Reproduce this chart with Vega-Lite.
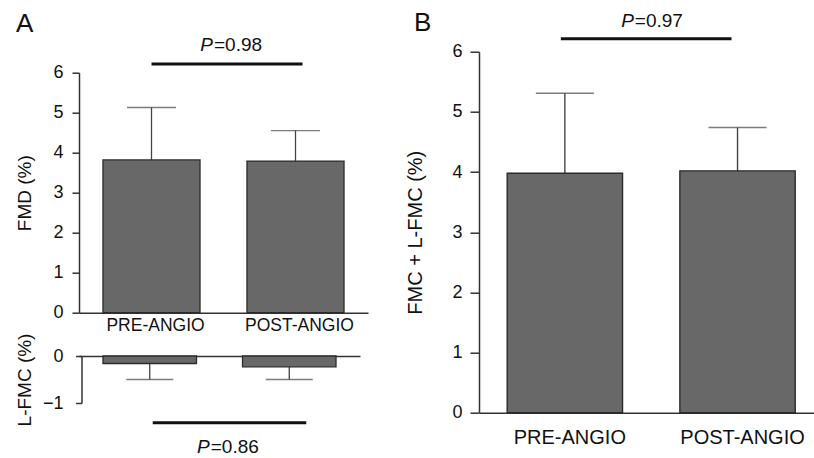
{
  "$schema": "https://vega.github.io/schema/vega-lite/v6.json",
  "autosize": {"type": "none"},
  "padding": {"left": 79, "top": 51.7, "right": 735, "bottom": 406.3},
  "background": "white",
  "bounds": "flush",
  "spacing": 400,
  "config": {
    "font": "Liberation Sans",
    "view": {"stroke": null},
    "axis": {
      "grid": false,
      "labelFont": "Liberation Sans",
      "titleFont": "Liberation Sans",
      "titleFontWeight": "normal",
      "domainColor": "#333333",
      "tickColor": "#333333",
      "domainWidth": 1.5,
      "tickWidth": 1.5,
      "labelColor": "#111111",
      "titleColor": "#111111"
    },
    "title": {"font": "Liberation Sans", "fontWeight": "normal", "fontSize": 26, "color": "#111111", "baseline": "alphabetic", "anchor": "start", "frame": "bounds"}
  },
  "hconcat": [
    {
      "bounds": "flush",
      "spacing": 43.3,
      "vconcat": [
        {
          "width": 289,
          "height": 261,
          "title": {"text": "A", "offset": -1.3},
          "data": {"values": [
            {"period": "PRE-ANGIO", "mean": 3.82, "upper": 5.13},
            {"period": "POST-ANGIO", "mean": 3.79, "upper": 4.55}
          ]},
          "encoding": {
            "x": {"field": "period", "type": "nominal",
              "scale": {"domain": ["PRE-ANGIO", "POST-ANGIO"], "paddingInner": 0.326, "paddingOuter": 0.1665},
              "axis": {"orient": "bottom", "title": null, "ticks": false, "labelAngle": 0, "labelFontSize": 17.5, "labelPadding": 4, "labelOffset": 4}}
          },
          "layer": [
            {
              "mark": {"type": "rule", "color": "#444444", "strokeWidth": 1.3},
              "encoding": {
                "y": {"field": "mean", "type": "quantitative",
                  "scale": {"domain": [0, 6], "range": [261, 21], "nice": false},
                  "axis": {"values": [0, 1, 2, 3, 4, 5, 6], "format": "d", "title": "FMD (%)", "titleFontSize": 19, "titlePadding": 18, "tickSize": 7, "labelPadding": 9, "labelFontSize": 18}},
                "y2": {"field": "upper"}
              }
            },
            {
              "mark": {"type": "tick", "color": "#444444", "thickness": 1.3, "size": 49},
              "encoding": {"y": {"field": "upper", "type": "quantitative"}}
            },
            {
              "mark": {"type": "bar", "fill": "#686868", "stroke": "#2b2b2b", "strokeWidth": 1.3},
              "encoding": {"y": {"field": "mean", "type": "quantitative"}}
            },
            {
              "data": {"values": [{"from": "PRE-ANGIO", "to": "POST-ANGIO", "p": "P", "v": "=0.98"}]},
              "layer": [
                {
                  "mark": {"type": "rule", "color": "#111111", "strokeWidth": 3, "x2Offset": 7},
                  "encoding": {"x": {"field": "from", "type": "nominal"}, "x2": {"field": "to"}, "y": {"datum": 6.22, "type": "quantitative"}}
                },
                {
                  "mark": {"type": "text", "align": "right", "baseline": "middle", "fontSize": 19, "fontStyle": "italic", "dx": 61.5, "color": "#111111"},
                  "encoding": {"x": {"field": "from", "type": "nominal"}, "y": {"datum": 6.69, "type": "quantitative"}, "text": {"field": "p"}}
                },
                {
                  "mark": {"type": "text", "align": "left", "baseline": "middle", "fontSize": 19, "dx": 62.5, "color": "#111111"},
                  "encoding": {"x": {"field": "from", "type": "nominal"}, "y": {"datum": 6.69, "type": "quantitative"}, "text": {"field": "v"}}
                }
              ]
            }
          ]
        },
        {
          "width": 281,
          "height": 47,
          "data": {"values": [
            {"period": "PRE-ANGIO", "mean": -0.16, "lower": -0.5},
            {"period": "POST-ANGIO", "mean": -0.23, "lower": -0.5}
          ]},
          "encoding": {
            "x": {"field": "period", "type": "nominal",
              "scale": {"domain": ["PRE-ANGIO", "POST-ANGIO"], "paddingInner": 0.33, "paddingOuter": 0.172},
              "axis": {"orient": "top", "title": null, "ticks": false, "labels": false}}
          },
          "layer": [
            {
              "mark": {"type": "rule", "color": "#444444", "strokeWidth": 1.3},
              "encoding": {
                "y": {"field": "mean", "type": "quantitative",
                  "scale": {"domain": [-1, 0], "nice": false},
                  "axis": {"values": [-1, 0], "format": "d", "offset": -2.5, "title": "L-FMC (%)", "titleFontSize": 19, "titlePadding": 7.5, "tickSize": 6, "labelPadding": 12.5, "labelFontSize": 18}},
                "y2": {"field": "lower"}
              }
            },
            {
              "mark": {"type": "tick", "color": "#444444", "thickness": 1.3, "size": 47},
              "encoding": {"y": {"field": "lower", "type": "quantitative"}}
            },
            {
              "mark": {"type": "bar", "fill": "#686868", "stroke": "#2b2b2b", "strokeWidth": 1.3},
              "encoding": {"y": {"field": "mean", "type": "quantitative"}}
            },
            {
              "data": {"values": [{"from": "PRE-ANGIO", "to": "POST-ANGIO", "p": "P", "v": "=0.86"}]},
              "layer": [
                {
                  "mark": {"type": "rule", "color": "#111111", "strokeWidth": 3, "xOffset": 3, "x2Offset": 17},
                  "encoding": {"x": {"field": "from", "type": "nominal"}, "x2": {"field": "to"}, "y": {"datum": -1.42, "type": "quantitative"}}
                },
                {
                  "mark": {"type": "text", "align": "right", "baseline": "middle", "fontSize": 19, "fontStyle": "italic", "dx": 60, "color": "#111111"},
                  "encoding": {"x": {"field": "from", "type": "nominal"}, "y": {"datum": -1.94, "type": "quantitative"}, "text": {"field": "p"}}
                },
                {
                  "mark": {"type": "text", "align": "left", "baseline": "middle", "fontSize": 19, "dx": 61, "color": "#111111"},
                  "encoding": {"x": {"field": "from", "type": "nominal"}, "y": {"datum": -1.94, "type": "quantitative"}, "text": {"field": "v"}}
                }
              ]
            }
          ]
        }
      ]
    },
    {
      "width": 335,
      "height": 361,
      "title": {"text": "B", "offset": -24.3, "dx": 8},
      "data": {"values": [
        {"period": "PRE-ANGIO", "mean": 3.98, "upper": 5.31},
        {"period": "POST-ANGIO", "mean": 4.02, "upper": 4.74}
      ]},
      "encoding": {
        "x": {"field": "period", "type": "nominal",
          "scale": {"domain": ["PRE-ANGIO", "POST-ANGIO"], "paddingInner": 0.332, "paddingOuter": 0.136, "align": 0.6},
          "axis": {"orient": "bottom", "title": null, "ticks": false, "labelAngle": 0, "labelFontSize": 20, "labelPadding": 15, "labelOffset": 5}}
      },
      "layer": [
        {
          "mark": {"type": "rule", "color": "#444444", "strokeWidth": 1.4},
          "encoding": {
            "y": {"field": "mean", "type": "quantitative",
              "scale": {"domain": [0, 6], "nice": false},
              "axis": {"values": [0, 1, 2, 3, 4, 5, 6], "format": "d", "title": "FMC + L-FMC (%)", "titleFontSize": 20, "titlePadding": 26, "tickSize": 9, "labelPadding": 8, "labelFontSize": 18}},
            "y2": {"field": "upper"}
          }
        },
        {
          "mark": {"type": "tick", "color": "#444444", "thickness": 1.4, "size": 58},
          "encoding": {"y": {"field": "upper", "type": "quantitative"}}
        },
        {
          "mark": {"type": "bar", "fill": "#686868", "stroke": "#2b2b2b", "strokeWidth": 1.4},
          "encoding": {"y": {"field": "mean", "type": "quantitative"}}
        },
        {
          "data": {"values": [{"from": "PRE-ANGIO", "to": "POST-ANGIO", "p": "P", "v": "=0.97"}]},
          "layer": [
            {
              "mark": {"type": "rule", "color": "#111111", "strokeWidth": 3, "xOffset": -4, "x2Offset": -6},
              "encoding": {"x": {"field": "from", "type": "nominal"}, "x2": {"field": "to"}, "y": {"datum": 6.216, "type": "quantitative"}}
            },
            {
              "mark": {"type": "text", "align": "right", "baseline": "middle", "fontSize": 19, "fontStyle": "italic", "dx": 69, "color": "#111111"},
              "encoding": {"x": {"field": "from", "type": "nominal"}, "y": {"datum": 6.51, "type": "quantitative"}, "text": {"field": "p"}}
            },
            {
              "mark": {"type": "text", "align": "left", "baseline": "middle", "fontSize": 19, "dx": 70, "color": "#111111"},
              "encoding": {"x": {"field": "from", "type": "nominal"}, "y": {"datum": 6.51, "type": "quantitative"}, "text": {"field": "v"}}
            }
          ]
        }
      ]
    }
  ]
}
